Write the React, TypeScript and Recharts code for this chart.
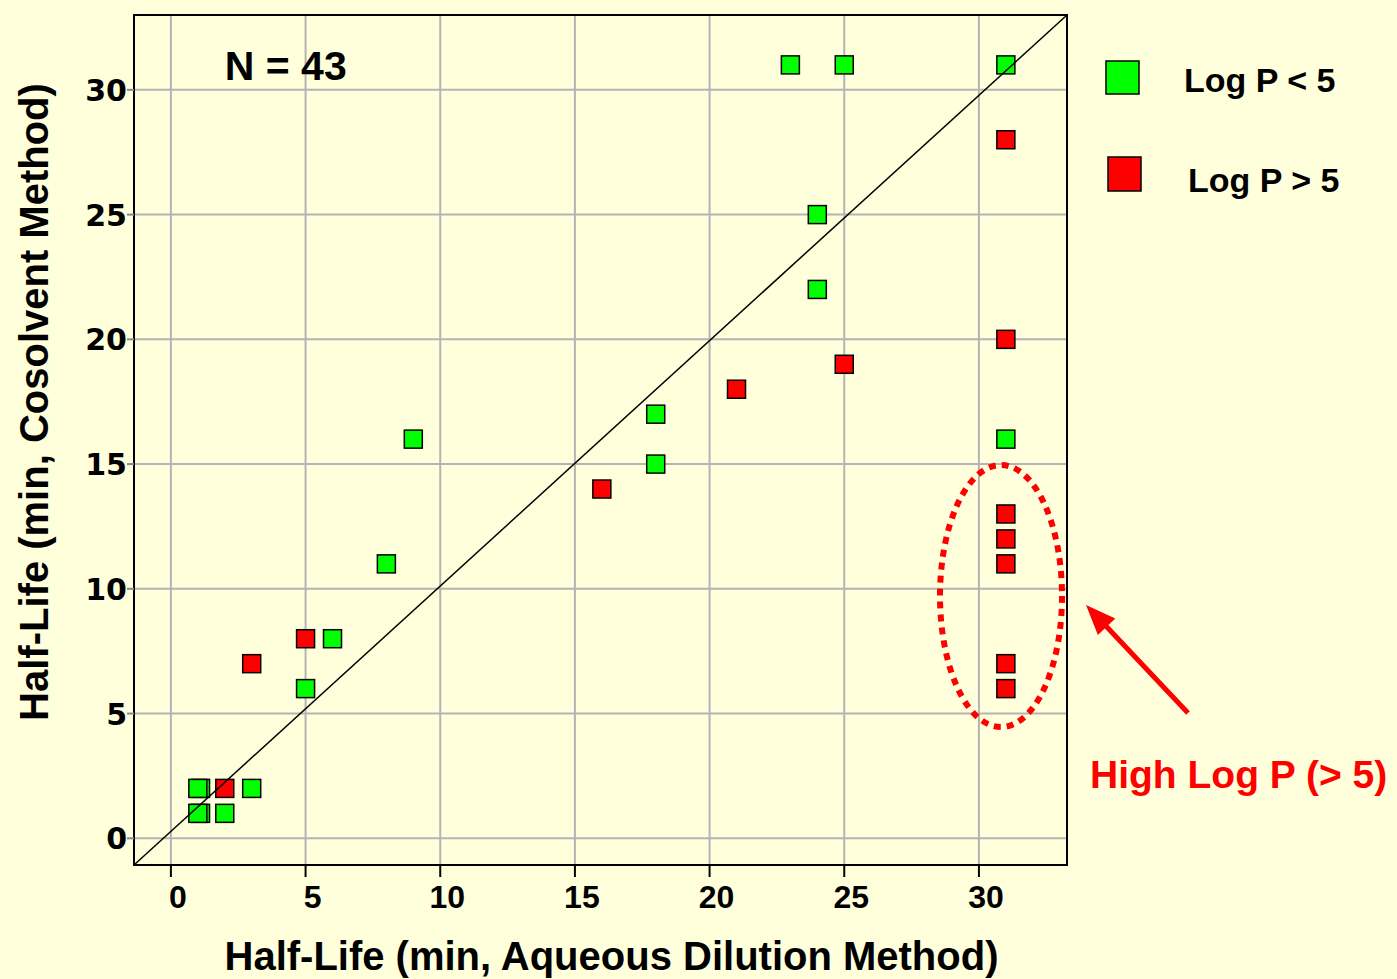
import React from 'react';
import {
  ScatterChart,
  Scatter,
  XAxis,
  YAxis,
  CartesianGrid,
  ReferenceLine,
  ReferenceArea,
  ReferenceDot,
  Label,
} from 'recharts';

// half-life values (min)
const lowLogPAqueous = [1.1, 1, 1.1, 1, 2, 3, 5, 6, 8, 9, 18, 18, 23, 25, 31, 24, 24, 31];
const lowLogPCosolvent = [2, 2, 1, 1, 1, 2, 6, 8, 11, 16, 17, 15, 31, 31, 31, 25, 22, 16];
const highLogPAqueous = [2, 3, 5, 16, 21, 25, 31, 31, 31, 31, 31, 31, 31];
const highLogPCosolvent = [2, 7, 8, 14, 18, 19, 28, 20, 13, 12, 11, 7, 6];

const xTicks = [0, 5, 10, 15, 20, 25, 30];
const yTicks = [0, 5, 10, 15, 20, 25, 30];
const xDomain = [-1.37, 33.27];
const yDomain = [-1.07, 33.0];

const seriesNames = ['Log P < 5', 'Log P > 5'];
const seriesColors = ['#00ff00', '#ff0000'];

const lowData = lowLogPAqueous.map((x, i) => ({ x, y: lowLogPCosolvent[i] }));
const highData = highLogPAqueous.map((x, i) => ({ x, y: highLogPCosolvent[i] }));

const W = 1397;
const H = 979;
const BG = '#FFFFDC';
const SANS = '"Liberation Sans", Arial, Helvetica, sans-serif';

const squareShape = (color: string) => (props: any) => (
  <rect
    x={props.cx - 9}
    y={props.cy - 9}
    width={18}
    height={18}
    fill={color}
    stroke="#000"
    strokeWidth={1.5}
  />
);

const XTick = (props: any) => (
  <text
    x={props.x + 7}
    y={props.y + 23}
    textAnchor="middle"
    fontFamily={SANS}
    fontSize={32}
    fontWeight="bold"
    fill="#000"
  >
    {props.payload.value}
  </text>
);

const YTick = (props: any) => (
  <text
    x={props.x}
    y={props.y + 11}
    textAnchor="end"
    fontFamily='"DejaVu Sans", Verdana, sans-serif'
    fontSize={30}
    fontWeight="bold"
    fill="#000"
  >
    {props.payload.value}
  </text>
);

const YTitle = (props: any) => {
  const vb = props.viewBox || { x: 0, y: 15, width: 134, height: 850 };
  const cx = vb.x + 48;
  const cy = vb.y + vb.height / 2 - 38;
  return (
    <text
      x={cx}
      y={cy}
      transform={`rotate(-90, ${cx}, ${cy})`}
      textAnchor="middle"
      fontFamily={SANS}
      fontSize={40}
      fontWeight="bold"
      fill="#000"
    >
      Half-Life (min, Cosolvent Method)
    </text>
  );
};

const App = () => {
  return (
    <div
      style={{
        position: 'absolute',
        left: 0,
        top: 0,
        width: W,
        height: H,
        background: BG,
      }}
    >
      <ScatterChart width={W} height={H} margin={{ top: 15, right: 330, bottom: 0, left: 0 }}>
        <CartesianGrid stroke="#b4b4b4" strokeWidth={2} />
        <XAxis
          type="number"
          dataKey="x"
          domain={xDomain}
          ticks={xTicks}
          allowDataOverflow
          height={114}
          tickSize={12}
          tickMargin={8}
          axisLine={{ stroke: '#000', strokeWidth: 2 }}
          tickLine={{ stroke: '#000', strokeWidth: 2 }}
          tick={<XTick />}
        >
          <Label
            value="Half-Life (min, Aqueous Dilution Method)"
            position="insideBottom"
            offset={9}
            dx={11}
            fontFamily={SANS}
            fontSize={40}
            fontWeight="bold"
            fill="#000"
          />
        </XAxis>
        <YAxis
          type="number"
          dataKey="y"
          domain={yDomain}
          ticks={yTicks}
          allowDataOverflow
          width={134}
          tickSize={7}
          tickMargin={0}
          axisLine={{ stroke: '#000', strokeWidth: 2 }}
          tickLine={{ stroke: '#888', strokeWidth: 2 }}
          tick={<YTick />}
        >
          <Label content={<YTitle />} />
        </YAxis>
        <ReferenceArea
          x1={xDomain[0]}
          x2={xDomain[1]}
          y1={yDomain[0]}
          y2={yDomain[1]}
          fill="none"
          fillOpacity={0}
          stroke="#000"
          strokeWidth={2}
          ifOverflow="visible"
        />
        <Scatter
          name={seriesNames[1]}
          data={highData}
          shape={squareShape(seriesColors[1])}
          isAnimationActive={false}
        />
        <Scatter
          name={seriesNames[0]}
          data={lowData}
          shape={squareShape(seriesColors[0])}
          isAnimationActive={false}
        />
        <ReferenceLine
          segment={[
            { x: xDomain[0], y: yDomain[0] },
            { x: xDomain[1], y: yDomain[1] },
          ]}
          stroke="#000"
          strokeWidth={1.5}
          ifOverflow="visible"
          zIndex={700}
        />
        <ReferenceDot
          x={30.82}
          y={9.71}
          ifOverflow="visible"
          zIndex={700}
          shape={(p: any) => (
            <ellipse
              cx={p.cx}
              cy={p.cy}
              rx={61}
              ry={131}
              fill="none"
              stroke="#ff0000"
              strokeWidth={6}
              strokeDasharray="7 6"
            />
          )}
        />
        <ReferenceDot
          x={2}
          y={30.4}
          ifOverflow="visible"
          shape={(p: any) => (
            <text
              x={p.cx}
              y={p.cy}
              fontFamily={SANS}
              fontSize={41}
              fontWeight="bold"
              fill="#000"
            >
              N = 43
            </text>
          )}
        />
      </ScatterChart>
      <svg
        width={W}
        height={H}
        style={{ position: 'absolute', left: 0, top: 0, pointerEvents: 'none' }}
      >
        <rect x={1106} y={61} width={33} height={33} fill={seriesColors[0]} stroke="#000" strokeWidth={1.5} />
        <text x={1184} y={92} fontFamily={SANS} fontSize={34} fontWeight="bold" fill="#000">
          {seriesNames[0]}
        </text>
        <rect x={1108} y={157} width={33} height={34} fill={seriesColors[1]} stroke="#000" strokeWidth={1.5} />
        <text x={1188} y={192} fontFamily={SANS} fontSize={34} fontWeight="bold" fill="#000">
          {seriesNames[1]}
        </text>
        <line x1={1188} y1={713} x2={1105} y2={625} stroke="#ff0000" strokeWidth={5} />
        <polygon points="1086,605 1097.9,635 1115.3,618.6" fill="#ff0000" />
        <text x={1090} y={788} fontFamily={SANS} fontSize={39} fontWeight="bold" fill="#ff0000">
          High Log P (&gt; 5)
        </text>
      </svg>
    </div>
  );
};

export default App;
